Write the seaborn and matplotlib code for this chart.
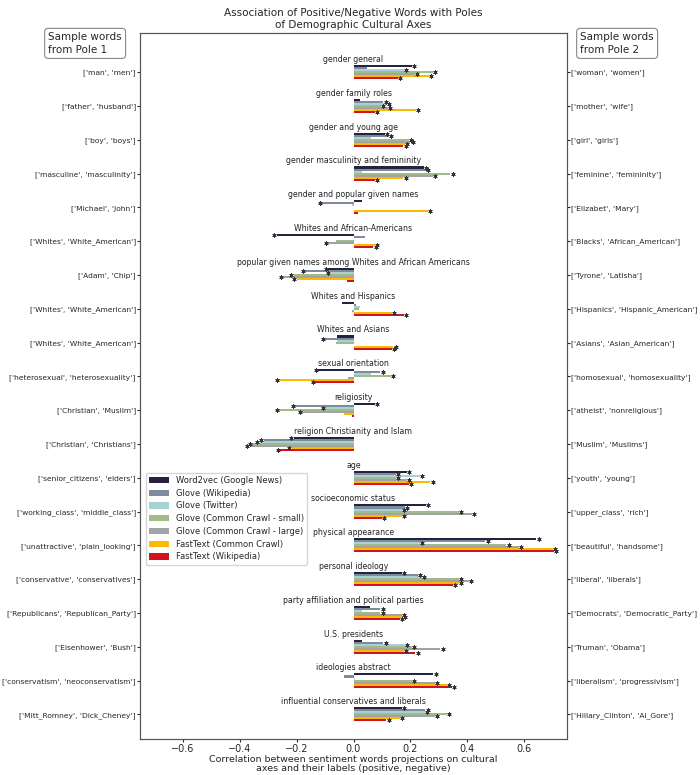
import numpy as np
import pandas as pd
import matplotlib
matplotlib.use("Agg")
import matplotlib.pyplot as plt
import seaborn as sns

# ---- dados ----
eixos = [
    "gender general", "gender family roles", "gender and young age",
    "gender masculinity and femininity", "gender and popular given names",
    "Whites and African-Americans",
    "popular given names among Whites and African Americans",
    "Whites and Hispanics", "Whites and Asians", "sexual orientation",
    "religiosity", "religion Christianity and Islam", "age",
    "socioeconomic status", "physical appearance", "personal ideology",
    "party affiliation and political parties", "U.S. presidents",
    "ideologies abstract", "influential conservatives and liberals",
]

polo1 = [
    "['man', 'men']", "['father', 'husband']", "['boy', 'boys']",
    "['masculine', 'masculinity']", "['Michael', 'John']",
    "['Whites', 'White_American']", "['Adam', 'Chip']",
    "['Whites', 'White_American']", "['Whites', 'White_American']",
    "['heterosexual', 'heterosexuality']", "['Christian', 'Muslim']",
    "['Christian', 'Christians']", "['senior_citizens', 'elders']",
    "['working_class', 'middle_class']", "['unattractive', 'plain_looking']",
    "['conservative', 'conservatives']", "['Republicans', 'Republican_Party']",
    "['Eisenhower', 'Bush']", "['conservatism', 'neoconservatism']",
    "['Mitt_Romney', 'Dick_Cheney']",
]

polo2 = [
    "['woman', 'women']", "['mother', 'wife']", "['girl', 'girls']",
    "['feminine', 'femininity']", "['Elizabet', 'Mary']",
    "['Blacks', 'African_American']", "['Tyrone', 'Latisha']",
    "['Hispanics', 'Hispanic_American']", "['Asians', 'Asian_American']",
    "['homosexual', 'homosexuality']", "['atheist', 'nonreligious']",
    "['Muslim', 'Muslims']", "['youth', 'young']", "['upper_class', 'rich']",
    "['beautiful', 'handsome']", "['liberal', 'liberals']",
    "['Democrats', 'Democratic_Party']", "['Truman', 'Obama']",
    "['liberalism', 'progressivism']", "['Hillary_Clinton', 'Al_Gore']",
]

modelos = [
    "Word2vec (Google News)", "Glove (Wikipedia)", "Glove (Twitter)",
    "Glove (Common Crawl - small)", "Glove (Common Crawl - large)",
    "FastText (Common Crawl)", "FastText (Wikipedia)",
]

word2vec_gn = [0.205, 0.023, 0.11, 0.246, 0.03, -0.27, -0.088, -0.041, -0.059, -0.123,
               0.076, -0.21, 0.187, 0.255, 0.642, 0.17, 0.059, 0.03, 0.281, 0.17]
glove_wiki = [0.047, 0.105, 0.125, 0.255, -0.11, 0.04, -0.17, 0.01, -0.1, 0.094,
              -0.205, -0.316, 0.15, 0.18, 0.463, 0.226, 0.094, 0.105, -0.032, 0.252]
glove_twitter = [0.176, 0.115, 0.06, 0.03, -0.005, 0.0, -0.08, 0.023, -0.059, 0.06,
                 -0.1, -0.33, 0.234, 0.17, 0.234, 0.24, 0.03, 0.18, 0.005, 0.25]
glove_cc_small = [0.28, 0.095, 0.195, 0.34, 0.0, -0.06, -0.21, 0.02, -0.06, 0.13,
                  -0.26, -0.357, 0.15, 0.37, 0.537, 0.37, 0.094, 0.205, 0.205, 0.328]
glove_cc_large = [0.215, 0.12, 0.2, 0.28, 0.0, -0.09, -0.246, -0.005, 0.0, -0.02,
                  -0.18, -0.365, 0.187, 0.416, 0.58, 0.405, 0.17, 0.305, 0.287, 0.287]
fasttext_cc = [0.265, 0.22, 0.18, 0.175, 0.26, 0.075, -0.2, 0.135, 0.14, -0.26,
               -0.035, -0.217, 0.27, 0.17, 0.70, 0.37, 0.173, 0.176, 0.328, 0.164]
fasttext_wiki = [0.155, 0.075, 0.175, 0.076, 0.015, 0.07, -0.023, 0.176, 0.135, -0.135,
                 -0.005, -0.258, 0.194, 0.1, 0.705, 0.35, 0.164, 0.217, 0.346, 0.115]

cores = ["#23233f", "#7e8b9c", "#a9d0d2", "#a2b98a", "#a3a3a7", "#fbb900", "#d3131b"]


def montar_tabela():
    series = [word2vec_gn, glove_wiki, glove_twitter, glove_cc_small,
              glove_cc_large, fasttext_cc, fasttext_wiki]
    linhas = []
    for modelo, valores in zip(modelos, series):
        for eixo, v in zip(eixos, valores):
            linhas.append({"eixo": eixo, "modelo": modelo, "valor": v})
    return pd.DataFrame(linhas)


def main():
    sns.set_style("ticks")
    plt.rcParams["font.family"] = ["DejaVu Sans"]
    df = montar_tabela()

    fig = plt.figure(figsize=(7, 7.75), dpi=100)
    ax = fig.add_axes([0.2, 0.046, 0.61, 0.911])

    sns.barplot(data=df, x="valor", y="eixo", hue="modelo", orient="h",
                order=eixos, hue_order=modelos, palette=cores, saturation=1,
                width=0.42, linewidth=0, errorbar=None, ax=ax)

    # asteriscos nas pontas das barras
    for cont in ax.containers:
        for p in cont:
            w = p.get_width()
            if abs(w) < 0.065:
                continue
            yc = p.get_y() + p.get_height() / 2
            ax.plot(w + np.sign(w) * 0.008, yc, marker=(6, 2, 0), ms=3.0,
                    mew=0.6, color="#333333", linestyle="none")

    for i, nome in enumerate(eixos):
        ax.text(0, i - 0.375, nome, ha="center", va="center", fontsize=5.6,
                color="#222222")

    ax.set_xlim(-0.75, 0.75)
    ax.set_ylim(19.74, -1.15)
    ax.set_xticks([-0.6, -0.4, -0.2, 0.0, 0.2, 0.4, 0.6])
    ax.tick_params(axis="x", labelsize=7, length=2.5, pad=1.2)
    ax.set_yticks(range(len(eixos)))
    ax.set_yticklabels(polo1, fontsize=5.4)
    ax.tick_params(axis="y", length=2, pad=1)
    ax.set_ylabel("")
    ax.set_xlabel("Correlation between sentiment words projections on cultural\n"
                  "axes and their labels (positive, negative)", fontsize=6.8,
                  labelpad=0.5, linespacing=1.0)
    ax.set_title("Association of Positive/Negative Words with Poles\n"
                 "of Demographic Cultural Axes", fontsize=7.5, pad=4)
    for s in ax.spines.values():
        s.set_color("#555555")
        s.set_linewidth(0.8)

    ax2 = ax.twinx()
    ax2.set_ylim(ax.get_ylim())
    ax2.set_yticks(range(len(eixos)))
    ax2.set_yticklabels(polo2, fontsize=5.4)
    ax2.tick_params(axis="y", length=2, pad=1)
    for s in ax2.spines.values():
        s.set_color("#555555")
        s.set_linewidth(0.8)

    sns.move_legend(ax, "center left", bbox_to_anchor=(0.013, 0.3126),
                    title=None, fontsize=6.0, frameon=True, borderaxespad=0,
                    handlelength=2.4, handleheight=0.8, labelspacing=0.45)

    caixa = dict(boxstyle="round,pad=0.35", fc="white", ec="#888888", lw=0.8)
    fig.text(0.069, 0.944, "Sample words\nfrom Pole 1", ha="left", va="center",
             fontsize=7.5, linespacing=1.35, bbox=caixa)
    fig.text(0.829, 0.944, "Sample words\nfrom Pole 2", ha="left", va="center",
             fontsize=7.5, linespacing=1.35, bbox=caixa)

    fig.savefig("out.png", dpi=100)
    plt.close(fig)


if __name__ == "__main__":
    main()
